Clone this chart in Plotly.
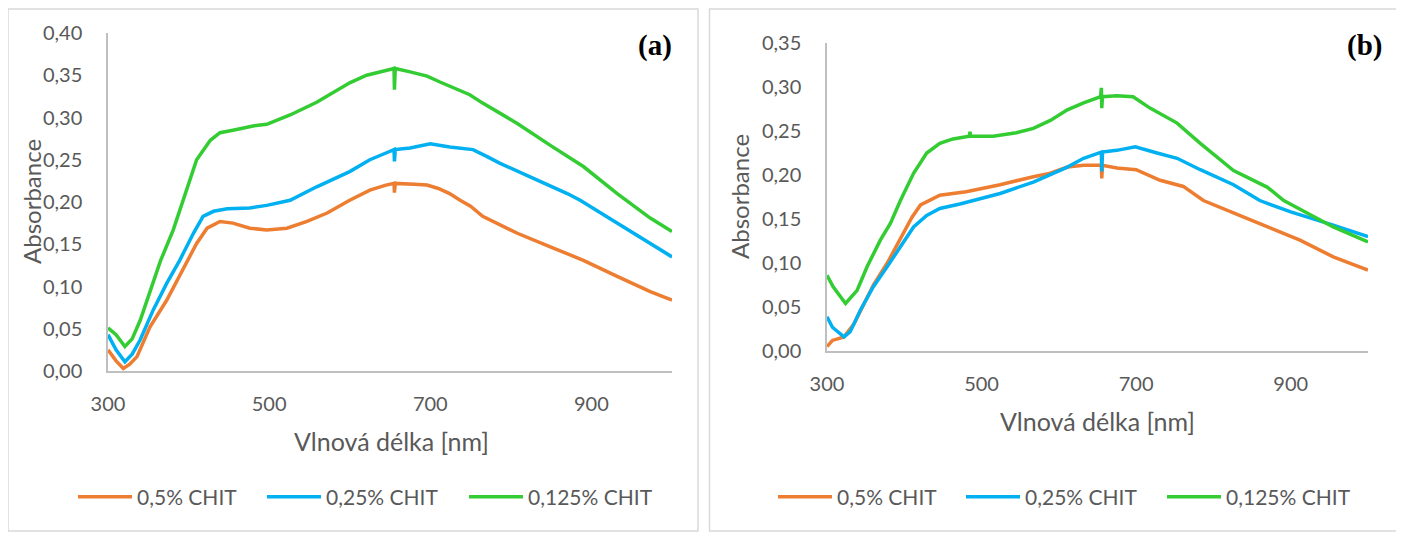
import plotly.graph_objects as go

W, H = 1404, 534
OFF = 8  # page body margin in the browser

# ---------------- data: panel (a) ----------------
wl_a_05 = [300, 310, 319, 327, 336, 352, 373, 393, 410, 423, 439, 455, 476, 497, 522, 547, 572, 600, 625, 645,
           655, 655.5, 656.5, 680, 696, 710, 724, 737, 750, 765, 786, 808, 849, 890, 932, 973, 1000]
ab_a_05 = [0.025, 0.012, 0.003, 0.008, 0.017, 0.052, 0.084, 0.120, 0.151, 0.169, 0.177, 0.175, 0.169, 0.167, 0.169,
           0.177, 0.187, 0.202, 0.214, 0.220, 0.222, 0.211, 0.222, 0.221, 0.220, 0.216, 0.210, 0.202, 0.195, 0.183,
           0.173, 0.163, 0.147, 0.131, 0.112, 0.094, 0.084]

wl_a_025 = [300, 310, 321, 330, 340, 356, 373, 389, 406, 418, 431, 448, 476, 497, 526, 559, 600, 625, 645,
            655, 655.5, 656.5, 675, 700, 724, 753, 770, 786, 828, 870, 886, 932, 973, 1000]
ab_a_025 = [0.043, 0.025, 0.011, 0.020, 0.037, 0.072, 0.104, 0.131, 0.163, 0.183, 0.189, 0.192, 0.193, 0.196, 0.202,
            0.218, 0.236, 0.250, 0.258, 0.262, 0.248, 0.262, 0.264, 0.269, 0.265, 0.262, 0.254, 0.246, 0.228, 0.210,
            0.202, 0.175, 0.151, 0.135]

wl_a_0125 = [300, 310, 321, 330, 340, 352, 365, 381, 393, 410, 427, 439, 455, 480, 497, 526, 559, 579, 600, 621, 641,
             655, 655.5, 656.5, 675, 696, 712, 733, 749, 765, 808, 849, 890, 932, 973, 1000]
ab_a_0125 = [0.051, 0.043, 0.029, 0.038, 0.060, 0.095, 0.130, 0.167, 0.202, 0.250, 0.273, 0.282, 0.285, 0.290, 0.292,
             0.303, 0.318, 0.329, 0.341, 0.350, 0.355, 0.358, 0.333, 0.358, 0.354, 0.349, 0.342, 0.333, 0.327, 0.317,
             0.293, 0.267, 0.242, 0.210, 0.181, 0.165]

# ---------------- data: panel (b) ----------------
wl_b_05 = [300, 307, 322, 335, 343, 360, 378, 395, 410, 421, 446, 480, 524, 567, 589, 611, 632,
           655, 655.5, 656.5, 675, 700, 731, 761, 787, 848, 912, 955, 1000]
ab_b_05 = [0.005, 0.012, 0.016, 0.031, 0.045, 0.075, 0.100, 0.128, 0.152, 0.166, 0.177, 0.181, 0.189, 0.198, 0.202,
           0.209, 0.211, 0.211, 0.196, 0.211, 0.208, 0.206, 0.194, 0.187, 0.171, 0.149, 0.126, 0.107, 0.092]

wl_b_025 = [300, 307, 322, 330, 343, 360, 378, 395, 412, 429, 446, 472, 489, 524, 567, 589, 611, 632,
            655, 655.5, 656.5, 675, 699, 727, 753, 783, 826, 860, 900, 955, 1000]
ab_b_025 = [0.039, 0.027, 0.016, 0.022, 0.046, 0.073, 0.096, 0.118, 0.141, 0.154, 0.162, 0.167, 0.171, 0.179, 0.192,
            0.200, 0.209, 0.219, 0.226, 0.204, 0.226, 0.228, 0.232, 0.225, 0.219, 0.206, 0.189, 0.171, 0.158, 0.143,
            0.130]

wl_b_0125 = [300, 308, 324, 339, 352, 369, 382, 395, 412, 429, 446, 463, 484, 485, 486, 515, 545, 567, 589, 611, 632,
             654, 655, 655.5, 656.5, 675, 696, 718, 753, 783, 826, 870, 891, 955, 1000]
ab_b_0125 = [0.086, 0.073, 0.054, 0.069, 0.096, 0.126, 0.145, 0.171, 0.202, 0.225, 0.236, 0.241, 0.244, 0.249, 0.244,
             0.244, 0.248, 0.253, 0.262, 0.274, 0.282, 0.289, 0.299, 0.276, 0.289, 0.290, 0.289, 0.276, 0.259, 0.236,
             0.205, 0.186, 0.171, 0.141, 0.124]

series_names = ["0,5% CHIT", "0,25% CHIT", "0,125% CHIT"]
colors = ["#ED7D31", "#00B0F0", "#33CC33"]
x_ticks = [300, 500, 700, 900]
y_ticks_a = [0.00, 0.05, 0.10, 0.15, 0.20, 0.25, 0.30, 0.35, 0.40]
y_ticks_b = [0.00, 0.05, 0.10, 0.15, 0.20, 0.25, 0.30, 0.35]

FONT = "Lato"
GREY = "#595959"
AXC = "#BFBFBF"


def px(v): return (v - OFF) / W
def py(v): return 1 - (v - OFF) / H


fig = go.Figure()

panel_a = [(wl_a_05, ab_a_05), (wl_a_025, ab_a_025), (wl_a_0125, ab_a_0125)]
panel_b = [(wl_b_05, ab_b_05), (wl_b_025, ab_b_025), (wl_b_0125, ab_b_0125)]

legend_starts_a = [80, 269, 471]
legend_starts_b = [780, 968, 1169]

legend_layout = {}
k = 1
for panel, (xa, ya), starts in [(panel_a, ("x", "y"), legend_starts_a), (panel_b, ("x2", "y2"), legend_starts_b)]:
    for (x, y), n, c, s in zip(panel, series_names, colors, starts):
        lid = "legend" if k == 1 else f"legend{k}"
        fig.add_trace(go.Scatter(x=x, y=y, name=n, mode="lines", line=dict(color=c, width=3.5),
                                 xaxis=xa, yaxis=ya, legend=lid))
        legend_layout[lid] = dict(orientation="h", x=px(s - 7), y=py(497), xanchor="left", yanchor="middle",
                                  font=dict(family=FONT, size=21, color=GREY), itemwidth=54,
                                  bgcolor="rgba(0,0,0,0)")
        k += 1

ax_common = dict(showgrid=False, zeroline=False, showline=True, linecolor=AXC, linewidth=1.5,
                 automargin=False, ticks="", tickfont=dict(family=FONT, size=20, color=GREY))

fig.update_layout(
    template="none",
    width=W, height=H, margin=dict(l=0, r=0, t=0, b=0, autoexpand=False),
    paper_bgcolor="white", plot_bgcolor="white",
    separators=", ",
    xaxis=dict(domain=[px(108), px(672)], range=[300, 1000], tickvals=x_ticks, anchor="y",
               ticklabelstandoff=14, **ax_common),
    yaxis=dict(domain=[py(371), py(33)], range=[0, 0.40], tickvals=y_ticks_a, tickformat=".2f", anchor="x",
               ticklabelstandoff=20, **ax_common),
    xaxis2=dict(domain=[px(827), px(1368)], range=[300, 1000], tickvals=x_ticks, anchor="y2",
                ticklabelstandoff=14, **ax_common),
    yaxis2=dict(domain=[py(351), py(43)], range=[0, 0.35], tickvals=y_ticks_b, tickformat=".2f", anchor="x2",
                ticklabelstandoff=20, **ax_common),
    showlegend=True,
    **legend_layout,
)

# panel borders
fig.add_shape(type="rect", xref="paper", yref="paper", x0=px(8), x1=px(698), y0=py(531), y1=py(9),
              line=dict(color="#D9D9D9", width=1.5), layer="below")
fig.add_shape(type="rect", xref="paper", yref="paper", x0=px(709.5), x1=px(1403), y0=py(531), y1=py(9),
              line=dict(color="#D9D9D9", width=1.5), layer="below")

# axis titles and panel labels
ann = [
    dict(x=px(31), y=py(202), text="Absorbance", textangle=-90, font=dict(family=FONT, size=24, color=GREY)),
    dict(x=px(739), y=py(197), text="Absorbance", textangle=-90, font=dict(family=FONT, size=24, color=GREY)),
    dict(x=px(391), y=py(441), text="Vlnová délka [nm]", font=dict(family=FONT, size=25, color=GREY)),
    dict(x=px(1097), y=py(421), text="Vlnová délka [nm]", font=dict(family=FONT, size=25, color=GREY)),
    dict(x=px(655), y=py(46), text="<b>(a)</b>", font=dict(family="Liberation Serif", size=29, color="black")),
    dict(x=px(1364), y=py(45), text="<b>(b)</b>", font=dict(family="Liberation Serif", size=29, color="black")),
]
for a in ann:
    fig.add_annotation(xref="paper", yref="paper", showarrow=False, xanchor="center", yanchor="middle", **a)

fig.write_html("out.html")
